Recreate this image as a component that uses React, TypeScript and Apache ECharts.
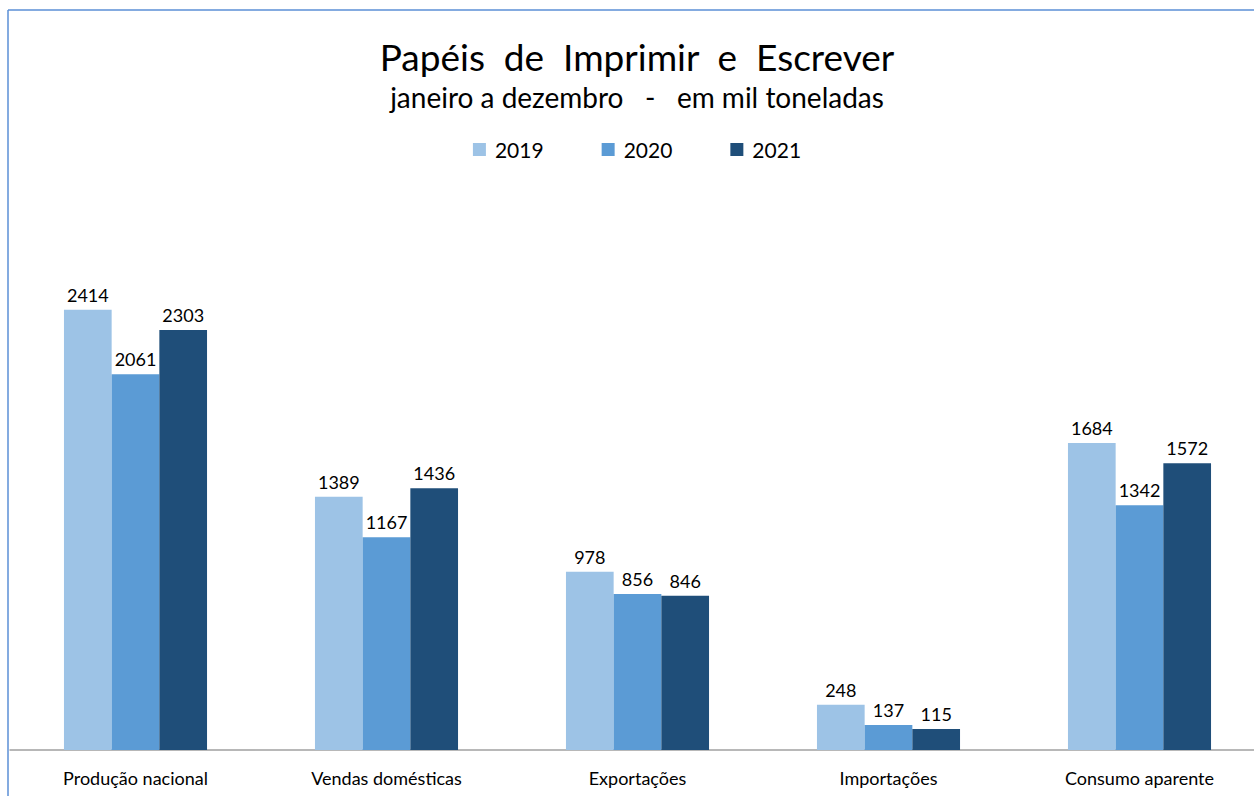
import React, { useEffect, useRef } from "react";
import * as echarts from "echarts";

const categories = ["Produção nacional", "Vendas domésticas", "Exportações", "Importações", "Consumo aparente"];
const years = ["2019", "2020", "2021"];
const values2019 = [2414, 1389, 978, 248, 1684];
const values2020 = [2061, 1167, 856, 137, 1342];
const values2021 = [2303, 1436, 846, 115, 1572];
const colors = ["#9dc3e6", "#5b9bd5", "#1f4e79"];

const FONT = "Lato, 'Open Sans', sans-serif";

export default function App() {
  const ref = useRef<HTMLDivElement>(null);
  useEffect(() => {
    document.body.style.margin = "0";
    document.body.style.overflow = "hidden";
    const chart = echarts.init(ref.current!, undefined, { renderer: "svg" });
    const seriesData = [values2019, values2020, values2021];
    chart.setOption({
      animation: false,
      backgroundColor: "#ffffff",
      textStyle: { fontFamily: FONT },
      title: {
        text: "Papéis  de  Imprimir  e  Escrever",
        subtext: "janeiro a dezembro   -   em mil toneladas",
        left: "center",
        top: 33,
        itemGap: 8,
        textStyle: { fontFamily: FONT, fontSize: 37, fontWeight: "normal", color: "#000" },
        subtextStyle: { fontFamily: FONT, fontSize: 28, color: "#000" },
      },
      legend: {
        data: years,
        top: 134,
        left: "center",
        itemWidth: 13,
        itemHeight: 13,
        itemGap: 58,
        icon: "rect",
        textStyle: { fontFamily: FONT, fontSize: 21, color: "#000", padding: [0, 0, 0, 4] },
      },
      grid: { left: 10, right: 9, top: 203, bottom: 46, containLabel: false },
      xAxis: {
        type: "category",
        data: categories,
        axisLine: { lineStyle: { color: "#a0a0a0", width: 1.5 } },
        axisTick: { show: false },
        axisLabel: { fontFamily: FONT, fontSize: 18, color: "#000", margin: 19 },
      },
      yAxis: {
        type: "value",
        min: 0,
        max: 3000,
        show: false,
        splitLine: { show: false },
      },
      graphic: [
        { type: "line", shape: { x1: 8, y1: 10, x2: 1274, y2: 10 }, style: { stroke: "#5b8fd6", lineWidth: 1.5 } },
        { type: "line", shape: { x1: 8, y1: 10, x2: 8, y2: 796 }, style: { stroke: "#5b8fd6", lineWidth: 1.5 } },
      ],
      series: years.map((y, i) => ({
        name: y,
        type: "bar",
        data: seriesData[i],
        barGap: "0%",
        barCategoryGap: "43%",
        itemStyle: { color: colors[i] },
        label: {
          show: true,
          position: "top",
          distance: 6,
          fontFamily: FONT,
          fontSize: 18,
          color: "#000",
        },
      })),
    });
    return () => chart.dispose();
  }, []);
  return <div ref={ref} style={{ width: 1274, height: 796 }} />;
}
